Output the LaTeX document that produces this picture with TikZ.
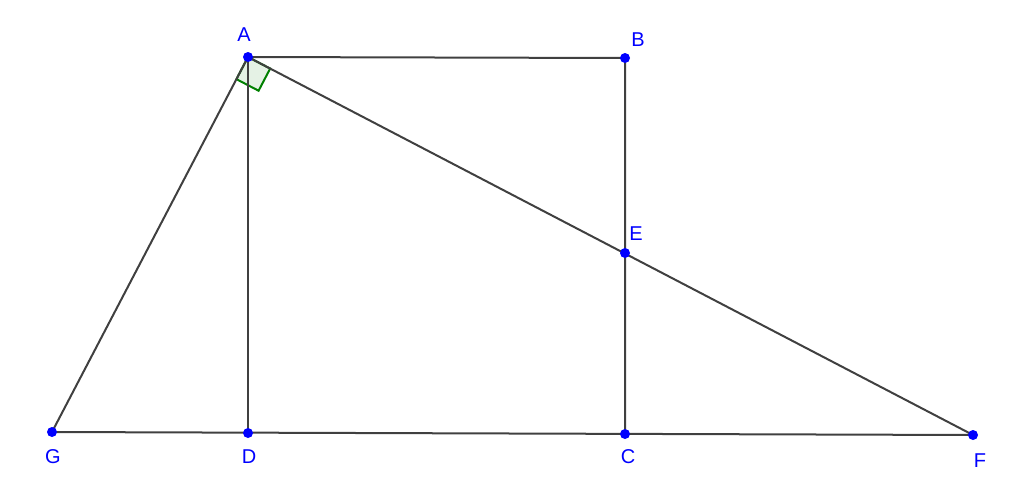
\documentclass[tikz,border=0pt]{standalone}
\usepackage{fontspec}
\setmainfont{Liberation Sans}
\usetikzlibrary{calc}
\definecolor{ptblue}{RGB}{0,0,255}
\definecolor{segray}{RGB}{64,64,64}
\definecolor{angreen}{RGB}{0,128,0}
\tikzset{
	seg/.style={color=segray,line width=2pt},
	pt/.style={circle,fill=ptblue,inner sep=0pt,minimum size=10pt},
	lab/.style={text=ptblue,font=\fontsize{20}{22}\selectfont,inner sep=0pt}
}
\begin{document}
\begin{tikzpicture}[x=1pt,y=-1pt]
			\useasboundingbox (0,0) rectangle (1024,499);
			\coordinate (A) at (248,57);
			\coordinate (B) at (625,58);
			\coordinate (E) at (625,253);
			\coordinate (G) at (52,432);
			\coordinate (D) at (248,433);
			\coordinate (C) at (625,434);
			\coordinate (F) at (973,435);
			% right angle at A
			\filldraw[color=angreen,fill=angreen,fill opacity=0.1,line width=2pt]
				(A) -- ($(A)!25pt!(G)$) -- ($($(A)!25pt!(G)$)+($(A)!25pt!(F)$)-(A)$) -- ($(A)!25pt!(F)$) -- cycle;
			\draw[seg] (A) -- (B) -- (C);
			\draw[seg] (G) -- (F);
			\draw[seg] (A) -- (D);
			\draw[seg] (A) -- (G);
			\draw[seg] (A) -- (F);
			\foreach \p in {A,B,C,D,E,F,G} {
					\node[pt] (p\p) at (\p) {};
				}
			\node[lab] (lA) at (244,35) {A};
			\node[lab] (lB) at (638,40) {B};
			\node[lab] (lE) at (636,234) {E};
			\node[lab] (lG) at (53,457) {G};
			\node[lab] (lD) at (249,457) {D};
			\node[lab] (lC) at (628,457) {C};
			\node[lab] (lF) at (980,461) {F};
		\end{tikzpicture}
\end{document}
